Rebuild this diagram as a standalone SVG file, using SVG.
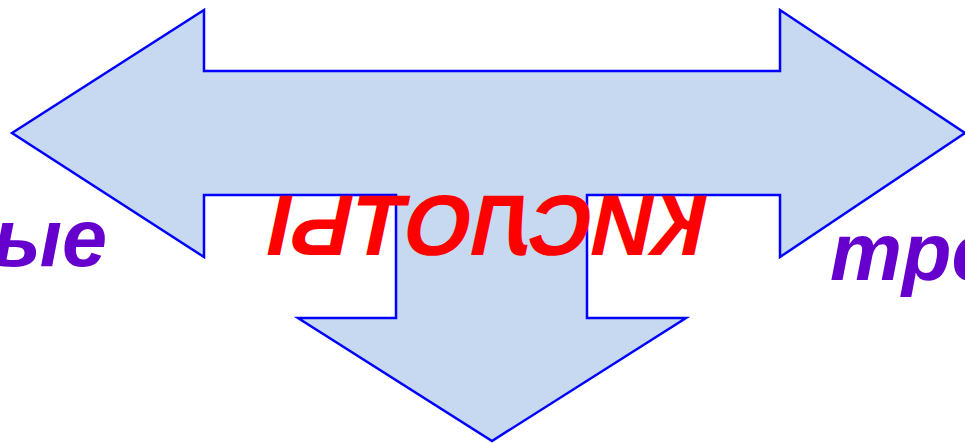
<svg xmlns="http://www.w3.org/2000/svg" width="965" height="443" viewBox="0 0 965 443">
<style>
.arrow{fill:#C6D9F1;stroke:#0000FF;stroke-width:2.5;stroke-linejoin:miter}
.lbl{font-family:"Liberation Sans",Arial,sans-serif;font-weight:bold;font-style:italic;font-size:81px;fill:#6600CC}
.main{font-family:"Liberation Sans",Arial,sans-serif;font-weight:bold;font-size:86px;fill:#FF0000}
</style>
<g id="arrow">
<path class="arrow" d="M12,133 L204,10 L204,71 L780,71 L780,10 L965,133 L780,257 L780,195 L587,195 L587,318 L686,318 L492,441 L298,318 L396,318 L396,195 L204,195 L204,257 Z"/>
</g>
<g id="title">
<text class="main" text-anchor="middle" transform="translate(481,255) scale(-1,1) skewX(12)" x="0" y="0">КИСЛОТЫ</text>
</g>
<g id="left-label">
<text class="lbl" x="107" y="266" text-anchor="end">ные</text>
</g>
<g id="right-label">
<text class="lbl" x="830" y="280">тре</text>
</g>
</svg>
